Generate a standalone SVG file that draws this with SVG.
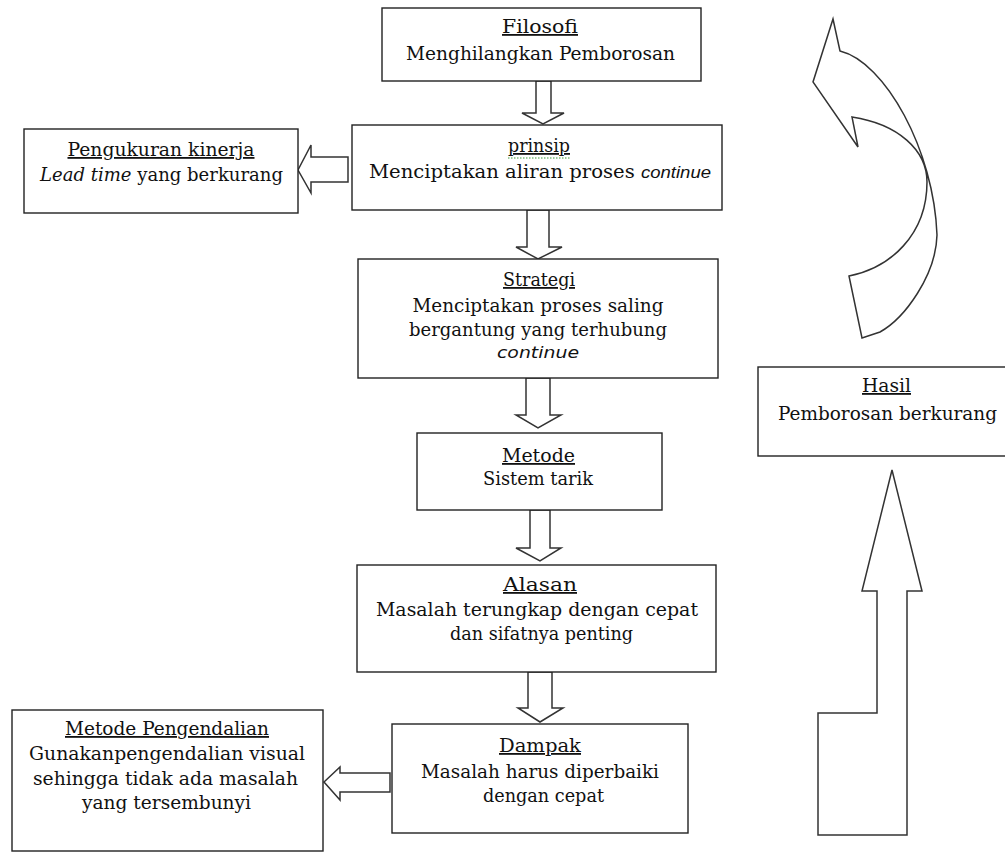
<svg xmlns="http://www.w3.org/2000/svg" width="1005" height="852" viewBox="0 0 1005 852">
<style>
.box{fill:#fff;stroke:#222;stroke-width:1.4}
.arr{fill:#fff;stroke:#333;stroke-width:1.5;stroke-linejoin:miter}
.t{font-family:"DejaVu Serif","Liberation Serif",serif;font-size:18px;fill:#111}
.h{text-decoration:underline}
.i{font-style:italic}
.s{font-family:"DejaVu Sans","Liberation Sans",sans-serif;font-size:16px;font-style:italic;fill:#111}
.s2{font-family:"Liberation Sans",Arial,sans-serif;font-size:17px;font-style:italic}
</style>
<rect width="1005" height="852" fill="#fff"/>
<g id="connectors">
<polygon class="arr" points="536,81 551,81 551,113 564,113 543,124 522,113 536,113"/>
<polygon class="arr" points="527,210 549,210 549,247 562,247 538,259 516,247 527,247"/>
<polygon class="arr" points="526,378 550,378 550,415 561,415 538,428 516,415 526,415"/>
<polygon class="arr" points="530,510 550,510 550,548 561,548 540,561 516,548 530,548"/>
<polygon class="arr" points="528,672 552,672 552,708 563,708 540,722 518,708 528,708"/>
<polygon class="arr" points="348,157 348,182 311,182 311,193 298,170 311,145 311,157"/>
<polygon class="arr" points="390,773 390,792 340,792 340,800 324,782 340,767 340,773"/>
<polygon class="arr" points="892,470 922,591 907,591 907,835 818,835 818,713 877,713 877,591 862,591"/>
<path class="arr" d="M840,51 L833,19 L813,82 L858,147 L852,117 C898,124 927,150 927,182 C927,235 890,268 849,276 L862,338 L880,332 C905,318 936,275 937,235 C934,150 885,62 840,51 Z"/>
</g>
<g id="filosofi">
<rect class="box" x="382" y="8" width="319" height="73"/>
<text class="t h" x="540" y="33" text-anchor="middle" textLength="76" lengthAdjust="spacingAndGlyphs">Filosofi</text>
<text class="t" x="540.5" y="60" text-anchor="middle" textLength="269" lengthAdjust="spacingAndGlyphs">Menghilangkan Pemborosan</text>
</g>
<g id="prinsip">
<rect class="box" x="352" y="125" width="370" height="85"/>
<text class="t h" x="539" y="152" text-anchor="middle" textLength="62" lengthAdjust="spacingAndGlyphs">prinsip</text>
<line x1="508" y1="158" x2="570" y2="158" stroke="#3a9a3a" stroke-width="1.2" stroke-dasharray="1.5,1.5"/>
<text class="t" x="369" y="178" textLength="342" lengthAdjust="spacingAndGlyphs">Menciptakan aliran proses <tspan class="s2">continue</tspan></text>
</g>
<g id="pengukuran">
<rect class="box" x="24" y="129" width="274" height="84"/>
<text class="t h" x="161" y="156" text-anchor="middle" textLength="187" lengthAdjust="spacingAndGlyphs">Pengukuran kinerja</text>
<text class="t" x="40" y="181" textLength="243" lengthAdjust="spacingAndGlyphs"><tspan class="i">Lead time</tspan> yang berkurang</text>
</g>
<g id="strategi">
<rect class="box" x="358" y="259" width="360" height="119"/>
<text class="t h" x="539" y="286" text-anchor="middle" textLength="72" lengthAdjust="spacingAndGlyphs">Strategi</text>
<text class="t" x="538" y="312" text-anchor="middle" textLength="251" lengthAdjust="spacingAndGlyphs">Menciptakan proses saling</text>
<text class="t" x="538" y="336" text-anchor="middle" textLength="258" lengthAdjust="spacingAndGlyphs">bergantung yang terhubung</text>
<text class="s" x="538" y="358" text-anchor="middle" textLength="82" lengthAdjust="spacingAndGlyphs">continue</text>
</g>
<g id="metode">
<rect class="box" x="417" y="433" width="245" height="77"/>
<text class="t h" x="538.5" y="462" text-anchor="middle" textLength="73" lengthAdjust="spacingAndGlyphs">Metode</text>
<text class="t" x="538" y="485" text-anchor="middle" textLength="110" lengthAdjust="spacingAndGlyphs">Sistem tarik</text>
</g>
<g id="alasan">
<rect class="box" x="357" y="565" width="359" height="107"/>
<text class="t h" x="540" y="591" text-anchor="middle" textLength="74" lengthAdjust="spacingAndGlyphs">Alasan</text>
<text class="t" x="537" y="616" text-anchor="middle" textLength="322" lengthAdjust="spacingAndGlyphs">Masalah terungkap dengan cepat</text>
<text class="t" x="541.5" y="640" text-anchor="middle" textLength="183" lengthAdjust="spacingAndGlyphs">dan sifatnya penting</text>
</g>
<g id="dampak">
<rect class="box" x="392" y="724" width="296" height="109"/>
<text class="t h" x="540" y="752" text-anchor="middle" textLength="82" lengthAdjust="spacingAndGlyphs">Dampak</text>
<text class="t" x="540" y="778" text-anchor="middle" textLength="238" lengthAdjust="spacingAndGlyphs">Masalah harus diperbaiki</text>
<text class="t" x="543.5" y="802" text-anchor="middle" textLength="121" lengthAdjust="spacingAndGlyphs">dengan cepat</text>
</g>
<g id="metode-pengendalian">
<rect class="box" x="12" y="710" width="311" height="141"/>
<text class="t h" x="167" y="735" text-anchor="middle" textLength="204" lengthAdjust="spacingAndGlyphs">Metode Pengendalian</text>
<text class="t" x="167" y="760" text-anchor="middle" textLength="276" lengthAdjust="spacingAndGlyphs">Gunakanpengendalian visual</text>
<text class="t" x="165.5" y="785" text-anchor="middle" textLength="265" lengthAdjust="spacingAndGlyphs">sehingga tidak ada masalah</text>
<text class="t" x="166.5" y="809" text-anchor="middle" textLength="169" lengthAdjust="spacingAndGlyphs">yang tersembunyi</text>
</g>
<g id="hasil">
<rect class="box" x="758" y="367" width="255" height="89"/>
<text class="t h" x="886.5" y="392" text-anchor="middle" textLength="49" lengthAdjust="spacingAndGlyphs">Hasil</text>
<text class="t" x="887.5" y="420" text-anchor="middle" textLength="219" lengthAdjust="spacingAndGlyphs">Pemborosan berkurang</text>
</g>
</svg>
